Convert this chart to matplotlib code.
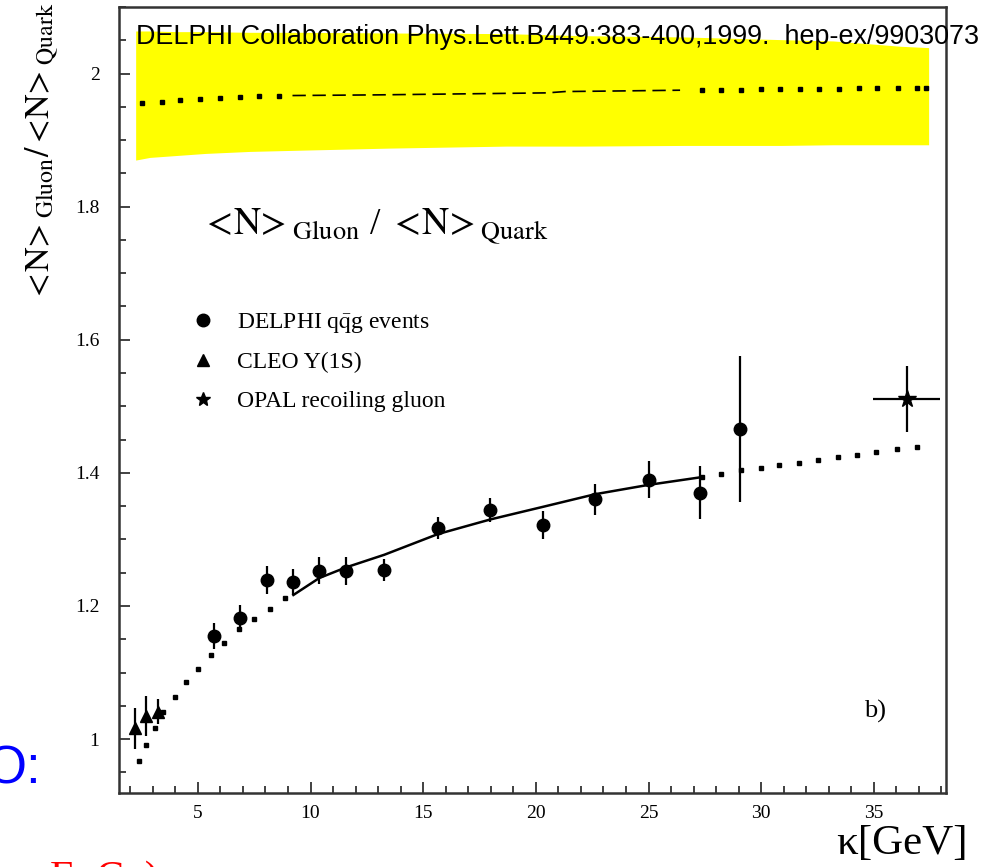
import numpy as np
import matplotlib
matplotlib.use('Agg')
import matplotlib.pyplot as plt
import matplotlib.ticker as ticker
from matplotlib.lines import Line2D

plt.rcParams['font.family'] = ['Liberation Serif', 'DejaVu Serif']
plt.rcParams['mathtext.fontset'] = 'stix'

# CLEO Upsilon(1S)
cleoX = [2.23, 2.72, 3.22]
cleoY = [1.016, 1.035, 1.041]
cleoErr = [0.031, 0.030, 0.019]

# DELPHI qqg events
delphiX = [5.72, 6.88, 8.05, 9.24, 10.39, 11.58, 13.28, 15.65, 17.98, 20.32, 22.64, 25.01, 27.28, 29.08]
delphiY = [1.155, 1.182, 1.239, 1.236, 1.253, 1.252, 1.254, 1.317, 1.344, 1.322, 1.360, 1.390, 1.370, 1.466]
delphiErr = [0.020, 0.019, 0.021, 0.020, 0.020, 0.021, 0.016, 0.017, 0.018, 0.021, 0.024, 0.028, 0.040, 0.110]

# OPAL recoiling gluon
opalX = [36.45]
opalY = [1.511]
opalXErr = [1.5]
opalYErr = [0.05]

# fit (solid) and theory (dotted) curves
fitX = [9.24, 10.39, 11.58, 13.28, 15.65, 17.98, 20.32, 22.64, 25.01, 27.24]
fitY = [1.2165, 1.242, 1.258, 1.277, 1.308, 1.330, 1.349, 1.368, 1.382, 1.393]
theoryLoX = [2.39, 2.72, 3.09, 3.46, 3.98, 4.47, 4.99, 5.58, 6.17, 6.84, 7.49, 8.2, 8.88]
theoryLoY = [0.967, 0.991, 1.017, 1.040, 1.063, 1.086, 1.105, 1.126, 1.145, 1.165, 1.180, 1.195, 1.212]
theoryHiX = [27.39, 28.23, 29.09, 29.98, 30.81, 31.68, 32.52, 33.39, 34.24, 35.09, 36.02, 36.9]
theoryHiY = [1.394, 1.399, 1.4045, 1.408, 1.412, 1.4155, 1.4195, 1.424, 1.4265, 1.4315, 1.4365, 1.4385]

# yellow band and its central curve
bandX = [2.24, 2.87, 4.1, 5.34, 7.3, 9.7, 13.5, 18.7, 22.0, 26.6, 30.9, 33.2, 36.2, 37.43]
bandHi = [2.064, 2.064, 2.063, 2.063, 2.062, 2.062, 2.061, 2.060, 2.057, 2.055, 2.051, 2.049, 2.041, 2.039]
bandLo = [1.870, 1.874, 1.877, 1.880, 1.883, 1.885, 1.888, 1.891, 1.891, 1.892, 1.892, 1.893, 1.893, 1.893]
ratioLoX = [2.5, 3.39, 4.23, 5.09, 5.98, 6.87, 7.72, 8.6]
ratioLoY = [1.956, 1.958, 1.961, 1.962, 1.963, 1.965, 1.966, 1.967]
ratioMidX = [9.2, 13.0, 18.0, 20.5, 21.3, 24.0, 26.4]
ratioMidY = [1.967, 1.968, 1.970, 1.971, 1.973, 1.974, 1.975]
ratioHiX = [27.39, 28.2, 29.09, 29.98, 30.84, 31.72, 32.57, 33.46, 34.32, 35.16, 36.05, 36.91, 37.31]
ratioHiY = [1.976, 1.976, 1.976, 1.977, 1.977, 1.977, 1.977, 1.977, 1.978, 1.978, 1.978, 1.978, 1.978]

fig = plt.figure(figsize=(9.89, 8.67), dpi=100)
ax = fig.add_axes([0.1203, 0.0854, 0.8362, 0.9065])

ax.fill_between(bandX, bandLo, bandHi, color='#ffff00', lw=0, zorder=1)
ax.plot(ratioLoX, ratioLoY, ls='none', marker='s', ms=2.2, color='k', zorder=2)
ax.plot(ratioMidX, ratioMidY, ls=(0, (8, 4)), lw=1.2, color='k', zorder=2)
ax.plot(ratioHiX, ratioHiY, ls='none', marker='s', ms=2.2, color='k', zorder=2)

ax.plot(theoryLoX, theoryLoY, ls='none', marker='s', ms=2.4, color='k', zorder=2)
ax.plot(theoryHiX, theoryHiY, ls='none', marker='s', ms=2.4, color='k', zorder=2)
ax.plot(fitX, fitY, lw=1.8, color='k', zorder=3)

ax.errorbar(cleoX, cleoY, yerr=cleoErr, fmt='^', ms=9, color='k', elinewidth=1.6, capsize=0, zorder=4)
ax.errorbar(delphiX, delphiY, yerr=delphiErr, fmt='o', ms=9, color='k', elinewidth=1.6, capsize=0, zorder=4)
ax.errorbar(opalX, opalY, xerr=opalXErr, yerr=opalYErr, fmt='*', ms=13, color='k', elinewidth=1.6, capsize=0, zorder=4)

ax.set_xlim(1.5, 38.2)
ax.set_ylim(0.919, 2.10)
ax.xaxis.set_major_locator(ticker.MultipleLocator(5))
ax.xaxis.set_minor_locator(ticker.MultipleLocator(1))
ax.yaxis.set_major_locator(ticker.MultipleLocator(0.2))
ax.yaxis.set_minor_locator(ticker.MultipleLocator(0.05))
ax.yaxis.set_major_formatter(ticker.FuncFormatter(lambda v, p: '%g' % round(v, 2)))
ax.tick_params(which='both', direction='in', top=False, right=False, labelsize=14, color='#333333')
ax.tick_params(which='major', length=8, width=1.3)
ax.tick_params(which='minor', length=5, width=1.3)
ax.tick_params(axis='y', pad=14)
ax.tick_params(axis='x', pad=9)
for s in ax.spines.values():
    s.set_linewidth(1.8)
    s.set_color('#333333')

# legend
handles = [Line2D([], [], marker='o', ls='none', color='k', ms=9),
           Line2D([], [], marker='^', ls='none', color='k', ms=9),
           Line2D([], [], marker='*', ls='none', color='k', ms=10)]
labels = [r'DELPHI q$\bar{\mathrm{q}}$g events', 'CLEO \u03a5(1S)', 'OPAL recoiling gluon']
fig.legend(handles, labels, loc='upper left', bbox_to_anchor=(191 / 989, 1 - 311 / 867),
           frameon=False, fontsize=17, handlelength=1.0, handletextpad=0.95,
           labelspacing=0.72, borderpad=0, borderaxespad=0)

ratioTxt = r'$<\!\mathrm{N}\!>_{\mathrm{Gluon}}$'
quarkTxt = r'$<\!\mathrm{N}\!>_{\mathrm{Quark}}$'
fig.text(201 / 989, 1 - 234 / 867, ratioTxt + ' / ' + quarkTxt,
         fontsize=27, ha='left', va='baseline')
fig.text(0.043, 1 - 152 / 867, r'$<\!\mathrm{N}\!>_{\mathrm{Gluon}}/<\!\mathrm{N}\!>_{\mathrm{Quark}}$',
         fontsize=24.5, rotation=90, ha='center', va='center')
fig.text(864 / 989, 1 - 718 / 867, 'b)', fontsize=19, ha='left', va='baseline')
fig.text(968 / 989, 1 - 854 / 867, '\u03ba[GeV]', fontsize=31, ha='right', va='baseline')

fig.text(136 / 989, 1 - 43.5 / 867, 'DELPHI Collaboration Phys.Lett.B449:383-400,1999.  hep-ex/9903073',
         fontsize=19.4, family='Liberation Sans', ha='left', va='baseline')
fig.text(-14 / 989, 1 - 783 / 867, 'O:', fontsize=38, family='Liberation Sans', color='#0000ff',
         ha='left', va='baseline')
fig.text(50 / 989, 1 - 890 / 867, 'E  C  )', fontsize=30, color='#ff0000', ha='left', va='baseline')

fig.savefig('out.png', dpi=100)
